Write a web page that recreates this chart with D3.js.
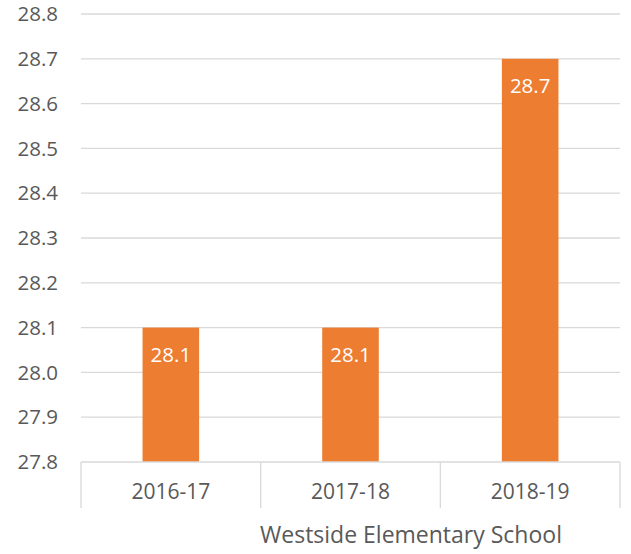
<!DOCTYPE html>
<html>
<head>
<meta charset="utf-8">
<script src="https://cdn.jsdelivr.net/npm/d3@7"></script>
<style>
  body { margin: 0; background: #fff; }
  text { font-family: "Open Sans", "Liberation Sans", sans-serif; }
</style>
</head>
<body>
<svg id="chart" width="631" height="554"></svg>
<script>
const categories = ["2016-17", "2017-18", "2018-19"];
const values = [28.1, 28.1, 28.7];
const yTicks = [27.8, 27.9, 28.0, 28.1, 28.2, 28.3, 28.4, 28.5, 28.6, 28.7, 28.8];
const axisTitle = "Westside Elementary School";

const margin = {top: 14, right: 11, bottom: 92, left: 81};
const width = 631 - margin.left - margin.right;
const height = 554 - margin.top - margin.bottom;

const svg = d3.select("#chart");
const g = svg.append("g").attr("transform", `translate(${margin.left},${margin.top})`);

const x = d3.scaleBand().domain(categories).range([0, width]).paddingInner(0).paddingOuter(0);
const y = d3.scaleLinear().domain([27.8, 28.8]).range([height, 0]);

// gridlines
g.selectAll(".grid").data(yTicks.slice(1)).enter().append("line")
  .attr("x1", 0).attr("x2", width)
  .attr("y1", d => y(d)).attr("y2", d => y(d))
  .attr("stroke", "#d9d9d9").attr("stroke-width", 1.3);

// y labels
g.selectAll(".ylab").data(yTicks).enter().append("text")
  .attr("x", -23).attr("y", d => y(d)).attr("dy", "0.35em")
  .attr("text-anchor", "end").attr("fill", "#595959").attr("font-size", 20.5)
  .text(d => d.toFixed(1));

// bars
const barW = x.bandwidth() * 0.315;
g.selectAll(".bar").data(values).enter().append("rect")
  .attr("x", (d, i) => x(categories[i]) + (x.bandwidth() - barW) / 2)
  .attr("width", barW)
  .attr("y", d => y(d))
  .attr("height", d => height - y(d))
  .attr("fill", "#ed7d31");

// data labels
g.selectAll(".dlab").data(values).enter().append("text")
  .attr("x", (d, i) => x(categories[i]) + x.bandwidth() / 2)
  .attr("y", d => y(d) + 27)
  .attr("dy", "0.35em")
  .attr("text-anchor", "middle").attr("fill", "#fff").attr("font-size", 20.5)
  .text(d => d.toFixed(1));

// x axis line and separators
g.append("line").attr("x1", 0).attr("x2", width).attr("y1", height).attr("y2", height)
  .attr("stroke", "#d9d9d9").attr("stroke-width", 1.3);
const seps = categories.map(c => x(c)).concat([width]);
g.selectAll(".sep").data(seps).enter().append("line")
  .attr("x1", d => d).attr("x2", d => d)
  .attr("y1", height).attr("y2", height + 46)
  .attr("stroke", "#d9d9d9").attr("stroke-width", 1.3);

// x labels
g.selectAll(".xlab").data(categories).enter().append("text")
  .attr("x", d => x(d) + x.bandwidth() / 2).attr("y", height + 30).attr("dy", "0.35em")
  .attr("text-anchor", "middle").attr("fill", "#595959").attr("font-size", 21)
  .text(d => d);

// axis title
g.append("text")
  .attr("x", 330).attr("y", height + 73).attr("dy", "0.35em")
  .attr("text-anchor", "middle").attr("fill", "#595959").attr("font-size", 23)
  .text(axisTitle);
</script>
</body>
</html>
